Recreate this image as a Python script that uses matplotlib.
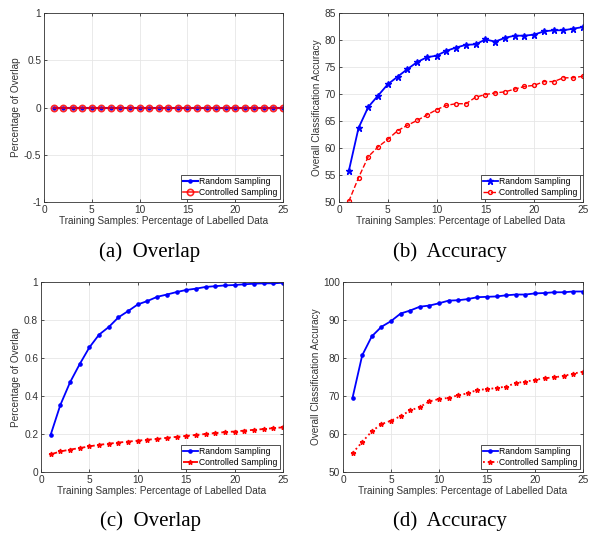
import numpy as np
import matplotlib
matplotlib.use('Agg')
import matplotlib.pyplot as plt

plt.rcParams['font.family'] = ['Liberation Sans', 'DejaVu Sans']

x = np.arange(1, 26)

# (a) overlap, disjoint
overlap_a_random = [0] * 25
overlap_a_ctrl = [0] * 25

# (b) accuracy
acc_b_random = [55.7, 63.7, 67.6, 69.7, 71.8, 73.2, 74.6, 75.9, 76.8, 77.1,
                78.0, 78.6, 79.1, 79.2, 80.1, 79.7, 80.4, 80.8, 80.8, 81.0,
                81.6, 81.8, 81.8, 82.1, 82.4]
acc_b_ctrl = [50.1, 54.5, 58.4, 60.2, 61.6, 63.2, 64.2, 65.1, 66.1, 67.1,
              67.9, 68.2, 68.2, 69.4, 69.9, 70.2, 70.4, 70.9, 71.4, 71.6,
              72.3, 72.3, 73.0, 73.0, 73.3]

# (c) overlap
overlap_c_random = [0.196, 0.353, 0.472, 0.568, 0.656, 0.723, 0.763, 0.814, 0.847, 0.882,
                    0.900, 0.922, 0.934, 0.947, 0.958, 0.965, 0.974, 0.978, 0.982, 0.984,
                    0.988, 0.991, 0.993, 0.993, 0.996]
overlap_c_ctrl = [0.093, 0.108, 0.118, 0.126, 0.135, 0.143, 0.149, 0.155, 0.160, 0.165,
                  0.170, 0.174, 0.180, 0.185, 0.190, 0.195, 0.200, 0.205, 0.210, 0.213,
                  0.218, 0.222, 0.226, 0.231, 0.235]

# (d) accuracy
acc_d_random = [69.6, 80.7, 85.7, 88.2, 89.7, 91.7, 92.5, 93.5, 93.8, 94.4,
                95.1, 95.2, 95.5, 96.0, 96.1, 96.2, 96.5, 96.7, 96.7, 97.0,
                97.1, 97.3, 97.3, 97.5, 97.5]
acc_d_ctrl = [55.0, 57.9, 60.7, 62.6, 63.5, 64.7, 66.2, 67.1, 68.6, 69.2,
              69.5, 70.2, 70.7, 71.6, 71.8, 72.1, 72.5, 73.4, 73.8, 74.2,
              74.7, 74.9, 75.3, 75.9, 76.4]

xlabel = 'Training Samples: Percentage of Labelled Data'
W, H = 590, 533
fig = plt.figure(figsize=(W / 100, H / 100), dpi=100)


def make_ax(l, r, t, b):
    return fig.add_axes([l / W, 1 - b / H, (r - l) / W, (b - t) / H])


def style(ax, ylabel, ylim, yticks, yticklabels=None):
    ax.set_xlim(0, 25)
    ax.set_xticks([0, 5, 10, 15, 20, 25])
    ax.set_ylim(*ylim)
    ax.set_yticks(yticks)
    if yticklabels is not None:
        ax.set_yticklabels(yticklabels)
    ax.grid(True, color='#e6e6e6', lw=0.6)
    ax.set_axisbelow(True)
    for s in ax.spines.values():
        s.set_color('#333333')
        s.set_linewidth(0.6)
    ax.tick_params(labelsize=7.3, colors='#333333', direction='in', length=2.5, width=0.6,
                   top=True, right=True, pad=2)
    ax.set_xlabel(xlabel, fontsize=7.2, color='#333333', labelpad=1)
    ax.set_ylabel(ylabel, fontsize=7.2, color='#333333', labelpad=2)
    leg = ax.legend(loc='lower right', fontsize=6.2, fancybox=False, framealpha=1,
                    edgecolor='#333333', borderpad=0.2, handlelength=1.8,
                    handletextpad=0.15, labelspacing=0.2, borderaxespad=0.4)
    leg.get_frame().set_linewidth(0.6)


# (a)
ax = make_ax(44, 283, 13, 202)
ax.plot(x, overlap_a_random, '-', color='blue', marker='.', ms=4.5, lw=1.5, label='Random Sampling')
ax.plot(x, overlap_a_ctrl, '-', color='red', marker='o', ms=4.5, mfc='none', mew=1.2, lw=1.2,
        alpha=0.85, label='Controlled Sampling')
style(ax, 'Percentage of Overlap', (-1, 1), [-1, -0.5, 0, 0.5, 1], ['-1', '-0.5', '0', '0.5', '1'])

# (b)
ax = make_ax(339, 583, 13, 202)
ax.plot(x, acc_b_random, '-', color='blue', marker='*', ms=4.5, lw=1.3, label='Random Sampling')
ax.plot(x, acc_b_ctrl, '--', color='red', marker='o', ms=2.8, mfc='none', lw=1.0, label='Controlled Sampling')
style(ax, 'Overall Classification Accuracy', (50, 85), range(50, 86, 5))

# (c)
ax = make_ax(41, 283, 282, 472)
ax.plot(x, overlap_c_random, '-', color='blue', marker='o', ms=2.3, lw=1.3, label='Random Sampling')
ax.plot(x, overlap_c_ctrl, '--', color='red', marker='*', ms=3.5, lw=1.3, label='Controlled Sampling')
style(ax, 'Percentage of Overlap', (0, 1), [0, 0.2, 0.4, 0.6, 0.8, 1], ['0', '0.2', '0.4', '0.6', '0.8', '1'])

# (d)
ax = make_ax(343, 583, 282, 472)
ax.plot(x, acc_d_random, '-', color='blue', marker='o', ms=2.3, lw=1.3, label='Random Sampling')
ax.plot(x, acc_d_ctrl, ':', color='red', marker='*', ms=3.5, lw=1.3, label='Controlled Sampling')
style(ax, 'Overall Classification Accuracy', (50, 100), range(50, 101, 10))

caps = [('(a)  Overlap', 150, 252), ('(b)  Accuracy', 450, 252),
        ('(c)  Overlap', 150, 521), ('(d)  Accuracy', 450, 521)]
for txt, cx, cy in caps:
    fig.text(cx / W, 1 - cy / H, txt, ha='center', va='center', fontsize=15,
             family=['Liberation Serif', 'DejaVu Serif'])

fig.savefig('out.png', dpi=100)
